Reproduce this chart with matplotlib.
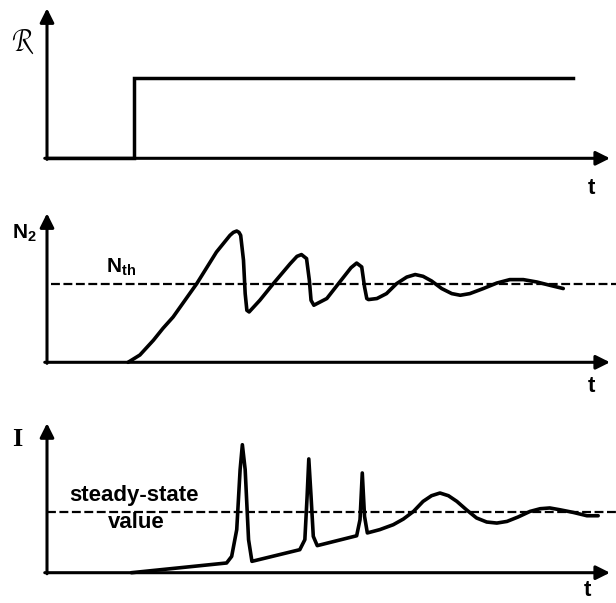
import matplotlib

matplotlib.use("Agg")
import matplotlib.pyplot as plt

plt.rcParams["font.family"] = ["Liberation Sans", "DejaVu Sans"]
plt.rcParams["mathtext.fontset"] = "custom"
plt.rcParams["mathtext.rm"] = "Liberation Sans:bold"
plt.rcParams["mathtext.it"] = "Liberation Sans:italic"

FIG_W, FIG_H = 616, 603

# pump rate R(t): step switched on at t_on
pump_t = [0.0, 15.4, 15.4, 93.5]
pump_r = [0.0, 0.0, 53.3, 53.3]

# population inversion N2(t)
n2_t = [14.4, 16.5, 18.9, 20.6, 22.4, 24.5, 26.6, 30.1, 32.5, 33.1, 33.7, 34.1,
        34.4, 34.9, 35.2, 35.5, 35.9, 37.8, 40.2, 43.2, 44.4, 45.2, 46.1, 46.6,
        46.9, 47.4, 49.7, 52.0, 54.0, 55.0, 55.9, 56.4, 56.8, 57.1, 58.6, 60.3,
        62.1, 63.9, 65.4, 66.8, 68.3, 70.1, 71.9, 73.4, 75.1, 77.5, 79.9, 82.2,
        84.6, 87.0, 89.3, 91.7]
n2_v = [0.0, 4.9, 14.8, 22.8, 30.4, 41.6, 52.8, 74.0, 85.2, 87.2, 88.1, 87.2,
        85.2, 68.5, 46.1, 34.9, 33.8, 41.6, 52.8, 66.2, 71.1, 72.3, 69.6, 55.0,
        41.6, 38.3, 42.8, 53.9, 63.5, 66.6, 64.0, 50.6, 42.8, 42.1, 42.8, 46.1,
        52.8, 57.2, 58.9, 57.7, 54.6, 49.5, 46.1, 45.0, 46.1, 49.5, 53.2, 55.5,
        55.5, 53.9, 51.7, 49.5]
n_th = 52.8

# output intensity I(t)
int_t = [15.0, 31.9, 32.8, 33.7, 34.3, 34.7, 35.2, 35.8, 36.4, 44.9, 45.8, 46.2,
         46.5, 46.9, 47.3, 48.0, 55.0, 55.6, 56.0, 56.4, 56.9, 59.1, 61.5, 63.3,
         65.1, 66.8, 68.3, 69.8, 71.3, 72.8, 74.5, 76.3, 78.1, 79.9, 81.7, 83.7,
         85.8, 87.6, 89.3, 91.1, 93.5, 95.9, 97.9]
int_v = [0.0, 6.5, 10.9, 28.8, 68.9, 85.6, 68.9, 22.1, 7.6, 15.4, 22.1, 51.0,
         76.1, 51.0, 24.3, 18.1, 24.7, 35.5, 66.7, 37.7, 26.6, 28.8, 32.1, 35.9,
         41.0, 47.7, 51.5, 53.3, 51.5, 47.7, 42.1, 36.6, 33.9, 33.2, 34.3, 37.3,
         41.0, 42.8, 43.3, 42.1, 40.3, 38.1, 38.1]
i_steady = 40.6


def frac(x_px, y_px):
    return x_px / FIG_W, 1 - y_px / FIG_H


def make_axes(fig, base_px, height_px):
    left = 47 / FIG_W
    width = 563 / FIG_W
    bottom = 1 - base_px / FIG_H
    ax = fig.add_axes([left, bottom, width, height_px / FIG_H])
    ax.set_xlim(0, 100)
    ax.set_ylim(0, 100)
    ax.axis("off")

    arrow = dict(arrowstyle="-|>", color="black", lw=2.2,
                 mutation_scale=21, shrinkA=0, shrinkB=0)
    ax.annotate("", xy=(100, 0), xytext=(-0.4, 0), arrowprops=arrow,
                annotation_clip=False)
    ax.annotate("", xy=(0, 100), xytext=(0, -0.7), arrowprops=arrow,
                annotation_clip=False)
    return ax


fig = plt.figure(figsize=(FIG_W / 100, FIG_H / 100), dpi=100)
fig.patch.set_facecolor("white")

line_style = dict(color="black", lw=2.6, solid_joinstyle="round",
                  solid_capstyle="round", clip_on=False)
dash_style = dict(color="black", lw=1.6, dashes=(4, 1.6), clip_on=False)

# panel 1: pump
ax1 = make_axes(fig, 158.3, 150)
ax1.plot(pump_t, pump_r, solid_joinstyle="miter", color="black", lw=2.5,
         clip_on=False)

# panel 2: N2
ax2 = make_axes(fig, 362.3, 149)
ax2.plot([0.7, 101.2], [n_th, n_th], **dash_style)
ax2.plot(n2_t, n2_v, **line_style)

# panel 3: intensity
ax3 = make_axes(fig, 572.7, 149.5)
ax3.plot([0.0, 101.2], [i_steady, i_steady], **dash_style)
ax3.plot(int_t, int_v, **line_style)

# labels
fig.text(*frac(23, 42), r"$\mathcal{R}$", fontsize=20, ha="center", va="center")
fig.text(*frac(591, 188), "t", fontsize=16, fontweight="bold", ha="center",
         va="center")

fig.text(*frac(24, 233), r"$\mathregular{N_2}$", fontsize=15,
         fontweight="bold", ha="center", va="center")
fig.text(*frac(121, 267), r"$\mathregular{N_{th}}$", fontsize=15,
         fontweight="bold", ha="center", va="center")
fig.text(*frac(591, 386), "t", fontsize=16, fontweight="bold", ha="center",
         va="center")

fig.text(*frac(17, 440), "I", fontsize=19, fontweight="bold", ha="center",
         va="center", family="Liberation Serif")
fig.text(*frac(134, 496), "steady-state", fontsize=16, fontweight="bold",
         ha="center", va="center")
fig.text(*frac(136, 523), "value", fontsize=16, fontweight="bold", ha="center",
         va="center")
fig.text(*frac(587, 591), "t", fontsize=16, fontweight="bold", ha="center",
         va="center")

fig.savefig("out.png", dpi=100)
